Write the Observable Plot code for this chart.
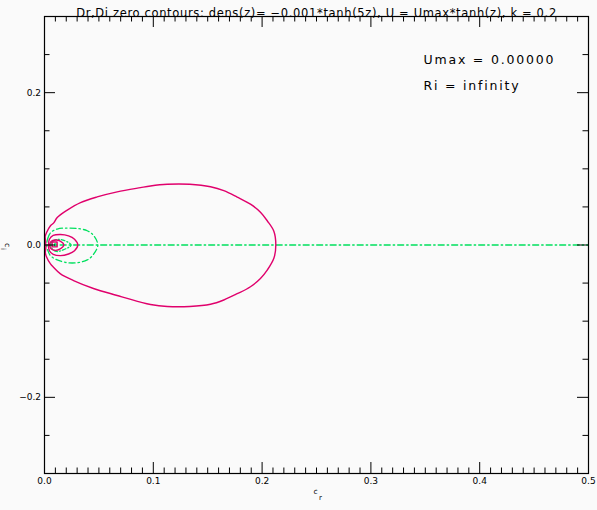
<!DOCTYPE html>
<html>
<head>
<meta charset="utf-8">
<script src="https://cdn.jsdelivr.net/npm/d3@7"></script>
<script src="https://cdn.jsdelivr.net/npm/@observablehq/plot@0.6"></script>
<style>
  html, body { margin: 0; padding: 0; background: #fafafa; }
  #chart { width: 597px; height: 510px; }
</style>
</head>
<body>
<div id="chart"></div>
<script>
// ---- text ----
const titleText = "Dr,Di zero contours: dens(z)= −0.001*tanh(5z), U = Umax*tanh(z), k = 0.2";
const annotationLines = ["Umax = 0.00000", "Ri = infinity"];
const xLabelMain = "c", xLabelSub = "r";
const yLabelMain = "c", yLabelSub = "i";

// ---- ticks ----
const xLabeledTicks = [0.0, 0.1, 0.2, 0.3, 0.4, 0.5];
const xMinorTicks = [0.01,0.02,0.03,0.04,0.05,0.06,0.07,0.08,0.09,
  0.11,0.12,0.13,0.14,0.15,0.16,0.17,0.18,0.19,
  0.21,0.22,0.23,0.24,0.25,0.26,0.27,0.28,0.29,
  0.31,0.32,0.33,0.34,0.35,0.36,0.37,0.38,0.39,
  0.41,0.42,0.43,0.44,0.45,0.46,0.47,0.48,0.49];
const yLabeledTicks = [-0.2, 0.0, 0.2];
const yMinorTicks = [-0.25, -0.15, -0.1, -0.05, 0.05, 0.1, 0.15, 0.25];

// ---- Dr = 0 contours (magenta) : [c_r, c_i] ----
const drBigContour = [
  [0.0005,0.0108],[0.0018,0.0161],[0.0055,0.0252],[0.0085,0.0290],[0.0117,0.0361],[0.0209,0.0458],
  [0.0331,0.0557],[0.0484,0.0631],[0.0668,0.0697],[0.0882,0.0753],[0.0974,0.0775],
  [0.1128,0.0797],[0.1335,0.0797],[0.1526,0.0765],[0.1648,0.0715],[0.1771,0.0630],
  [0.1893,0.0536],[0.1985,0.0430],[0.2047,0.0318],[0.2108,0.0180],[0.2126,0.0],
  [0.2108,-0.0175],[0.2047,-0.0330],[0.1985,-0.0440],[0.1893,-0.0548],[0.1771,-0.0640],
  [0.1648,-0.0722],[0.1526,-0.0778],[0.1335,-0.0807],[0.1128,-0.0807],[0.0974,-0.0781],[0.0882,-0.0750],
  [0.0668,-0.0663],[0.0450,-0.0571],[0.0267,-0.0467],[0.0147,-0.0380],[0.0085,-0.0296],
  [0.0055,-0.0248],[0.0018,-0.0153],[0.0008,-0.0101],[0.0012,-0.0040],[0.0010,0.0040],[0.0005,0.0108]
];
const drLoopOuter = [
  [0.0037,0.0],[0.0045,0.0075],[0.0080,0.0125],[0.0147,0.0138],[0.0221,0.0120],
  [0.0276,0.0076],[0.0306,0.0],[0.0276,-0.0075],[0.0221,-0.0118],[0.0147,-0.0140],
  [0.0080,-0.0122],[0.0045,-0.0075]
];
const drLoopInner = [
  [0.0047,0.0],[0.0060,0.0045],[0.0100,0.0065],[0.0140,0.0055],[0.0177,0.0],
  [0.0140,-0.0055],[0.0100,-0.0070],[0.0060,-0.0050]
];
const drLoopTiny = [
  [0.0070,0.0040],[0.0116,0.0040],[0.0116,-0.0025],[0.0070,-0.0025]
];

// ---- Di = 0 contours (green, dash-dot) ----
const diAxisLine = [[0.002,0.0],[0.5,0.0]];
const diLoopOuter = [
  [0.0020,0.0],[0.0030,0.0085],[0.0055,0.0160],[0.0117,0.0210],[0.0209,0.0222],
  [0.0301,0.0217],[0.0393,0.0187],[0.0453,0.0122],[0.0490,0.0],[0.0453,-0.0118],
  [0.0393,-0.0196],[0.0301,-0.0232],[0.0209,-0.0232],[0.0117,-0.0196],[0.0055,-0.0140],[0.0030,-0.0070]
];
const diLoopInner = [
  [0.0055,0.0],[0.0075,0.0050],[0.0110,0.0072],[0.0170,0.0065],[0.0245,0.0],
  [0.0170,-0.0065],[0.0110,-0.0085],[0.0075,-0.0055]
];
const diLoopTiny = [
  [0.0092,0.0015],[0.0107,0.0015],[0.0107,-0.0012],[0.0092,-0.0012]
];

// ---- styling ----
const magenta = "#e0006c";
const green = "#00e05e";
const W = 597, H = 510, mL = 44, mR = 9, mT = 16, mB = 37;
const plotW = W - mL - mR, plotH = H - mT - mB;
const longTick = 11, shortTick = 5.5;
const fmtY = d => d === 0 ? "0.0" : (d < 0 ? "−" + Math.abs(d).toFixed(1) : d.toFixed(1));

const X = d => d[0], Y = d => d[1];

const chart = Plot.plot({
  width: W, height: H,
  marginLeft: mL, marginRight: mR, marginTop: mT, marginBottom: mB,
  x: {domain: [0, 0.5], axis: null},
  y: {domain: [-0.3, 0.3], axis: null},
  style: {background: "#fafafa", fontFamily: "DejaVu Sans, sans-serif", color: "black"},
  marks: [
    // contours
    Plot.line(diAxisLine, {x: X, y: Y, stroke: green, strokeWidth: 1.3, strokeDasharray: "6,3,1.5,3"}),
    Plot.line(diLoopOuter, {x: X, y: Y, stroke: green, strokeWidth: 1.3, strokeDasharray: "6,3,1.5,3", curve: "catmull-rom-closed"}),
    Plot.line(diLoopInner, {x: X, y: Y, stroke: green, strokeWidth: 1.3, strokeDasharray: "4,2,1,2", curve: "catmull-rom-closed"}),
    Plot.line(diLoopTiny, {x: X, y: Y, stroke: green, strokeWidth: 1.2, curve: "linear-closed"}),
    Plot.line(drBigContour, {x: X, y: Y, stroke: magenta, strokeWidth: 1.4, curve: "catmull-rom"}),
    Plot.line(drLoopOuter, {x: X, y: Y, stroke: magenta, strokeWidth: 1.4, curve: "catmull-rom-closed"}),
    Plot.line(drLoopInner, {x: X, y: Y, stroke: magenta, strokeWidth: 1.4, curve: "catmull-rom-closed"}),
    Plot.line(drLoopTiny, {x: X, y: Y, stroke: magenta, strokeWidth: 1.4, curve: "linear-closed"}),
    // frame
    Plot.frame({stroke: "black", strokeWidth: 1.2}),
    // x ticks bottom & top
    Plot.tickX(xLabeledTicks, {x: d => d, insetTop: plotH - longTick, stroke: "black"}),
    Plot.tickX(xMinorTicks, {x: d => d, insetTop: plotH - shortTick, stroke: "black"}),
    Plot.tickX(xLabeledTicks, {x: d => d, insetBottom: plotH - longTick, stroke: "black"}),
    Plot.tickX(xMinorTicks, {x: d => d, insetBottom: plotH - shortTick, stroke: "black"}),
    // y ticks left & right
    Plot.tickY(yLabeledTicks, {y: d => d, insetRight: plotW - longTick, stroke: "black"}),
    Plot.tickY(yMinorTicks, {y: d => d, insetRight: plotW - shortTick, stroke: "black"}),
    Plot.tickY(yLabeledTicks, {y: d => d, insetLeft: plotW - longTick, stroke: "black"}),
    Plot.tickY(yMinorTicks, {y: d => d, insetLeft: plotW - shortTick, stroke: "black"}),
    // tick labels
    Plot.text(xLabeledTicks, {x: d => d, text: d => d.toFixed(1), frameAnchor: "bottom", dy: 10.5, fontSize: 9, fill: "black"}),
    Plot.text(yLabeledTicks, {y: d => d, text: fmtY, frameAnchor: "left", textAnchor: "end", dx: -3.5, fontSize: 9, fill: "black"}),
    // axis labels
    Plot.text([xLabelMain], {text: d => d, frameAnchor: "bottom", dy: 20, dx: -1, fontSize: 7.5, fill: "black"}),
    Plot.text([xLabelSub], {text: d => d, frameAnchor: "bottom", dy: 26, dx: 4, fontSize: 7, fill: "black"}),
    Plot.text([yLabelMain], {text: d => d, frameAnchor: "left", dx: -37, dy: -2, rotate: 90, fontSize: 7.5, fill: "black"}),
    Plot.text([yLabelSub], {text: d => d, frameAnchor: "left", dx: -41, dy: 3, rotate: 90, fontSize: 7, fill: "black"}),
    // title
    Plot.text([titleText], {text: d => d, frameAnchor: "top", dy: -8, fontSize: 11.5, fill: "black"}),
    // annotation
    Plot.text([annotationLines[0]], {text: d => d, frameAnchor: "top-left", textAnchor: "start", dx: 379, dy: 38.5, fontSize: 12.5, fill: "black"}),
    Plot.text([annotationLines[1]], {text: d => d, frameAnchor: "top-left", textAnchor: "start", dx: 379, dy: 65, fontSize: 12.5, fill: "black"})
  ]
});

// letter spacing to mimic the wide vector font
d3.select(chart).selectAll("text").each(function() {
  const t = this.textContent;
  if (t === titleText) this.setAttribute("letter-spacing", "0.65");
  if (annotationLines.includes(t)) this.setAttribute("letter-spacing", "1.8");
});

document.getElementById("chart").appendChild(chart);
</script>
</body>
</html>
